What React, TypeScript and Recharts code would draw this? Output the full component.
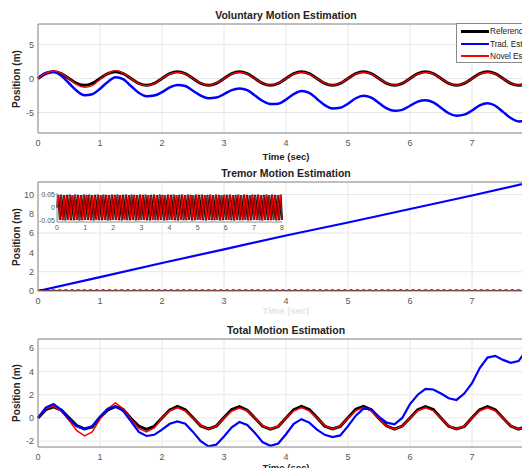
import React from "react";
import { LineChart, Line, XAxis, YAxis, CartesianGrid, ReferenceLine } from "recharts";

// sampling steps of the recorded signals (sec)
const STEP = 0.125;
const TREMOR_STEP = 0.05;
const X_TICKS = [0, 1, 2, 3, 4, 5, 6, 7];
const INSET_X_TICKS = [0, 1, 2, 3, 4, 5, 6, 7, 8];

// --- Voluntary motion (m) ---
const volRef = [
  0, 0.71, 1, 0.71, 0, -0.71, -1, -0.71,
  0, 0.71, 1, 0.71, 0, -0.71, -1, -0.71,
  0, 0.71, 1, 0.71, 0, -0.71, -1, -0.71,
  0, 0.71, 1, 0.71, 0, -0.71, -1, -0.71,
  0, 0.71, 1, 0.71, 0, -0.71, -1, -0.71,
  0, 0.71, 1, 0.71, 0, -0.71, -1, -0.71,
  0, 0.71, 1, 0.71, 0, -0.71, -1, -0.71,
  0, 0.71, 1, 0.71, 0, -0.71, -1, -0.71,
  0,
];
const volTrad = [
  0, 0.8, 1.0, 0.4, -0.7, -1.8, -2.45, -2.3,
  -1.5, -0.5, 0.2, -0.1, -1.1, -2.1, -2.6, -2.5,
  -2.0, -1.3, -0.95, -1.1, -1.8, -2.5, -2.9, -2.8,
  -2.3, -1.7, -1.45, -1.7, -2.5, -3.3, -3.75, -3.7,
  -3.1, -2.3, -1.85, -2.1, -3.0, -3.9, -4.4, -4.3,
  -3.7, -2.9, -2.55, -2.8, -3.6, -4.4, -4.75, -4.6,
  -4.0, -3.4, -3.2, -3.5, -4.3, -5.1, -5.45, -5.3,
  -4.7, -3.95, -3.65, -4.0, -4.9, -5.8, -6.3, -6.2,
  -5.6,
];
const volNovel = [
  0, 0.75, 1.1, 0.8, 0, -0.9, -1.3, -1.05,
  -0.1, 0.75, 1.15, 0.8, 0, -0.75, -1.05, -0.75,
  0, 0.68, 0.95, 0.68, 0, -0.7, -0.98, -0.7,
  0, 0.68, 0.95, 0.68, 0, -0.7, -0.98, -0.7,
  0, 0.68, 0.95, 0.68, 0, -0.7, -0.98, -0.7,
  0, 0.68, 0.95, 0.68, 0, -0.7, -0.98, -0.7,
  0, 0.68, 0.95, 0.68, 0, -0.7, -0.98, -0.7,
  0, 0.68, 0.95, 0.68, 0, -0.7, -0.98, -0.7,
  0,
];

// --- Tremor motion (m) ---
const tremorRef = [
  0,
  0.047, -0.046, 0.048, -0.047, 0.046, -0.048, 0.047, -0.046, 0.048, -0.047,
  0.046, -0.047, 0.048, -0.046, 0.047, -0.048, 0.046, -0.047, 0.048, -0.046,
  0.047, -0.046, 0.048, -0.047, 0.046, -0.048, 0.047, -0.046, 0.048, -0.047,
  0.046, -0.047, 0.048, -0.046, 0.047, -0.048, 0.046, -0.047, 0.048, -0.046,
  0.047, -0.046, 0.048, -0.047, 0.046, -0.048, 0.047, -0.046, 0.048, -0.047,
  0.046, -0.047, 0.048, -0.046, 0.047, -0.048, 0.046, -0.047, 0.048, -0.046,
  0.047, -0.046, 0.048, -0.047, 0.046, -0.048, 0.047, -0.046, 0.048, -0.047,
  0.046, -0.047, 0.048, -0.046, 0.047, -0.048, 0.046, -0.047, 0.048, -0.046,
  0.047, -0.046, 0.048, -0.047, 0.046, -0.048, 0.047, -0.046, 0.048, -0.047,
  0.046, -0.047, 0.048, -0.046, 0.047, -0.048, 0.046, -0.047, 0.048, -0.046,
  0.047, -0.046, 0.048, -0.047, 0.046, -0.048, 0.047, -0.046, 0.048, -0.047,
  0.046, -0.047, 0.048, -0.046, 0.047, -0.048, 0.046, -0.047, 0.048, -0.046,
  0.047, -0.046, 0.048, -0.047, 0.046, -0.048, 0.047, -0.046, 0.048, -0.047,
  0.046, -0.047, 0.048, -0.046, 0.047, -0.048, 0.046, -0.047, 0.048, -0.046,
  0.047, -0.046, 0.048, -0.047, 0.046, -0.048, 0.047, -0.046, 0.048, -0.047,
  0.046, -0.047, 0.048, -0.046, 0.047, -0.048, 0.046, -0.047, 0.048, -0.046,
];
const tremorNovel = [
  0,
  0.044, -0.045, 0.046, -0.044, 0.045, -0.046, 0.044, -0.045, 0.046, -0.044,
  0.045, -0.044, 0.046, -0.045, 0.044, -0.046, 0.045, -0.044, 0.046, -0.045,
  0.044, -0.045, 0.046, -0.044, 0.045, -0.046, 0.044, -0.045, 0.046, -0.044,
  0.045, -0.044, 0.046, -0.045, 0.044, -0.046, 0.045, -0.044, 0.046, -0.045,
  0.044, -0.045, 0.046, -0.044, 0.045, -0.046, 0.044, -0.045, 0.046, -0.044,
  0.045, -0.044, 0.046, -0.045, 0.044, -0.046, 0.045, -0.044, 0.046, -0.045,
  0.044, -0.045, 0.046, -0.044, 0.045, -0.046, 0.044, -0.045, 0.046, -0.044,
  0.045, -0.044, 0.046, -0.045, 0.044, -0.046, 0.045, -0.044, 0.046, -0.045,
  0.044, -0.045, 0.046, -0.044, 0.045, -0.046, 0.044, -0.045, 0.046, -0.044,
  0.045, -0.044, 0.046, -0.045, 0.044, -0.046, 0.045, -0.044, 0.046, -0.045,
  0.044, -0.045, 0.046, -0.044, 0.045, -0.046, 0.044, -0.045, 0.046, -0.044,
  0.045, -0.044, 0.046, -0.045, 0.044, -0.046, 0.045, -0.044, 0.046, -0.045,
  0.044, -0.045, 0.046, -0.044, 0.045, -0.046, 0.044, -0.045, 0.046, -0.044,
  0.045, -0.044, 0.046, -0.045, 0.044, -0.046, 0.045, -0.044, 0.046, -0.045,
  0.044, -0.045, 0.046, -0.044, 0.045, -0.046, 0.044, -0.045, 0.046, -0.044,
  0.045, -0.044, 0.046, -0.045, 0.044, -0.046, 0.045, -0.044, 0.046, -0.045,
];
const tremorTrad = [0, 1.44, 2.9, 4.32, 5.75, 7.1, 8.5, 9.9, 11.35];

// --- Total motion (m) ---
const totRef = [
  0, 0.72, 0.95, 0.68, 0.02, -0.66, -0.95, -0.78,
  0.05, 0.7, 0.97, 0.72, -0.05, -0.7, -0.98, -0.72,
  0, 0.68, 1.0, 0.7, 0.02, -0.68, -0.95, -0.7,
  0.03, 0.72, 0.98, 0.66, -0.02, -0.72, -0.96, -0.74,
  0, 0.7, 0.99, 0.72, 0.03, -0.7, -0.94, -0.72,
  0.02, 0.74, 1.0, 0.7, -0.04, -0.7, -0.97, -0.7,
  0, 0.7, 0.98, 0.73, 0, -0.72, -0.95, -0.74,
  0.02, 0.71, 0.97, 0.7, 0, -0.7, -0.96, -0.72,
  0.02,
];
const totTrad = [
  0, 0.9, 1.2, 0.7, -0.1, -0.7, -0.95, -0.7,
  0.1, 0.8, 1.0, 0.6, -0.3, -1.2, -1.55, -1.45,
  -1.0, -0.5, -0.3, -0.5, -1.2, -2.0, -2.45, -2.3,
  -1.6, -0.8, -0.35, -0.6, -1.3, -2.1, -2.4, -2.2,
  -1.4, -0.5, -0.1, -0.4, -1.0, -1.45, -1.65, -1.5,
  -0.7, 0.2, 0.8, 0.75, 0.1, -0.4, -0.55, 0.0,
  1.2, 2.0, 2.5, 2.45, 2.1, 1.7, 1.55, 2.1,
  3.0, 4.3, 5.2, 5.35, 5.0, 4.75, 4.9, 5.8,
  6.8,
];
const totNovel = [
  0, 0.78, 1.0, 0.6, -0.2, -1.1, -1.55, -1.2,
  -0.1, 0.8, 1.3, 0.8, -0.1, -0.9, -1.2, -0.85,
  0, 0.62, 0.88, 0.62, 0, -0.66, -0.95, -0.7,
  0, 0.6, 0.86, 0.64, 0, -0.68, -0.94, -0.72,
  0, 0.62, 0.9, 0.62, 0, -0.66, -0.95, -0.7,
  0, 0.64, 0.9, 0.6, -0.05, -0.7, -0.96, -0.7,
  0, 0.62, 0.88, 0.64, 0, -0.68, -0.95, -0.72,
  0, 0.62, 0.87, 0.62, 0, -0.68, -0.95, -0.7,
  0,
];

type Pt = { t: number; v: number };
const toSeries = (vals: number[], step: number): Pt[] =>
  vals.map((v, i) => ({ t: +(i * step).toFixed(3), v }));

type SeriesDef = { data: Pt[]; color: string; width: number; curve: "monotone" | "linear" };

const FONT = '"Liberation Sans", Arial, sans-serif';
const AXIS = "#8a8a8a";
const TICK = { fill: "#555", fontSize: 9 };

function Panel({
  top,
  height,
  mTop,
  mBottom,
  domain,
  yTicks,
  series,
}: {
  top: number;
  height: number;
  mTop: number;
  mBottom: number;
  domain: [number, number];
  yTicks: number[];
  series: SeriesDef[];
}) {
  return (
    <div style={{ position: "absolute", left: 0, top }}>
      <LineChart
        width={560}
        height={height}
        margin={{ top: mTop, right: 26, bottom: mBottom - 1, left: 37 }}
      >
        <CartesianGrid stroke="#e6e6e6" verticalPoints={undefined} />
        <XAxis
          dataKey="t"
          type="number"
          domain={[0, 8]}
          ticks={X_TICKS}
          height={1}
          stroke={AXIS}
          tickLine={false}
          tickSize={4}
          tickMargin={3}
          tick={TICK}
          allowDuplicatedCategory={false}
        />
        <YAxis
          type="number"
          domain={domain}
          ticks={yTicks}
          width={1}
          stroke={AXIS}
          tickLine={false}
          tickSize={2}
          tickMargin={2}
          tick={TICK}
          allowDataOverflow
        />
        <ReferenceLine y={domain[1]} stroke={AXIS} />
        {series.map((s, i) => (
          <Line
            key={i}
            data={s.data}
            dataKey="v"
            type={s.curve}
            stroke={s.color}
            strokeWidth={s.width}
            dot={false}
            isAnimationActive={false}
          />
        ))}
      </LineChart>
    </div>
  );
}

function Label({ x, y, text, size = 10, rotate = false, color = "#222", bold = true }: {
  x: number; y: number; text: string; size?: number; rotate?: boolean; color?: string; bold?: boolean;
}) {
  return (
    <div
      style={{
        position: "absolute",
        left: x,
        top: y,
        transform: `translate(-50%, -50%)${rotate ? " rotate(-90deg)" : ""}`,
        fontSize: size,
        fontWeight: bold ? 700 : 400,
        color,
        whiteSpace: "nowrap",
        lineHeight: 1,
      }}
    >
      {text}
    </div>
  );
}

function LegendBox() {
  const rows = [
    { label: "Reference", color: "#000", w: 3 },
    { label: "Trad. Est.", color: "#0000ff", w: 2 },
    { label: "Novel Est.", color: "#ff0000", w: 1.5 },
  ];
  return (
    <div
      style={{
        position: "absolute",
        left: 456,
        top: 23,
        width: 100,
        height: 38,
        border: "1px solid #8a8a8a",
        background: "#fff",
      }}
    >
      {rows.map((r, i) => (
        <div key={i} style={{ position: "absolute", left: 4, top: 1 + i * 12.5, height: 12, display: "flex", alignItems: "center" }}>
          <div style={{ width: 28, height: r.w, background: r.color }} />
          <span style={{ marginLeft: 1, fontSize: 8.3, color: "#222", letterSpacing: -0.1 }}>{r.label}</span>
        </div>
      ))}
    </div>
  );
}

function Inset() {
  return (
    <div style={{ position: "absolute", left: 30, top: 185 }}>
      <LineChart width={262} height={52} margin={{ top: 8, right: 10, bottom: 14, left: 26 }}>
        <CartesianGrid fill="#fff" stroke="none" />
        <XAxis
          dataKey="t"
          type="number"
          domain={[0, 8]}
          ticks={INSET_X_TICKS}
          height={1}
          stroke={AXIS}
          tickLine={false}
          tickSize={2}
          tickMargin={1}
          tick={{ fill: "#555", fontSize: 7 }}
          allowDuplicatedCategory={false}
        />
        <YAxis
          type="number"
          domain={[-0.054, 0.054]}
          ticks={[-0.05, 0, 0.05]}
          width={1}
          stroke={AXIS}
          tickLine={false}
          tickSize={1}
          tickMargin={1}
          tick={{ fill: "#555", fontSize: 7 }}
        />
        <Line data={toSeries(tremorRef, TREMOR_STEP)} dataKey="v" type="linear" stroke="#000" strokeWidth={2} dot={false} isAnimationActive={false} />
        <Line data={toSeries(tremorNovel, TREMOR_STEP)} dataKey="v" type="linear" stroke="#ff0000" strokeWidth={1} dot={false} isAnimationActive={false} />
      </LineChart>
    </div>
  );
}

export default function App() {
  return (
    <div
      style={{
        position: "relative",
        width: 530,
        height: 476,
        margin: -8,
        overflow: "hidden",
        background: "#fff",
        fontFamily: FONT,
      }}
    >
      <Panel
        top={0}
        height={158}
        mTop={24}
        mBottom={25}
        domain={[-8, 8]}
        yTicks={[-5, 0, 5]}
        series={[
          { data: toSeries(volRef, STEP), color: "#000", width: 3, curve: "monotone" },
          { data: toSeries(volTrad, STEP), color: "#0000ff", width: 2.5, curve: "monotone" },
          { data: toSeries(volNovel, STEP), color: "#ff0000", width: 1.3, curve: "monotone" },
        ]}
      />
      <Panel
        top={158}
        height={158}
        mTop={24}
        mBottom={25}
        domain={[0, 11.3]}
        yTicks={[0, 2, 4, 6, 8, 10]}
        series={[
          { data: toSeries(tremorTrad, 1), color: "#0000ff", width: 2.2, curve: "linear" },
          { data: toSeries(tremorRef, TREMOR_STEP), color: "#000", width: 2.5, curve: "linear" },
          { data: toSeries(tremorNovel, TREMOR_STEP), color: "#cc0000", width: 1.3, curve: "linear" },
        ]}
      />
      <Inset />
      <Panel
        top={316}
        height={160}
        mTop={23}
        mBottom={29}
        domain={[-2.5, 6.8]}
        yTicks={[-2, 0, 2, 4, 6]}
        series={[
          { data: toSeries(totRef, STEP), color: "#000", width: 3, curve: "linear" },
          { data: toSeries(totNovel, STEP), color: "#ff0000", width: 1.5, curve: "linear" },
          { data: toSeries(totTrad, STEP), color: "#0000ff", width: 2.2, curve: "linear" },
        ]}
      />
      <LegendBox />

      <Label x={286} y={15} text="Voluntary Motion Estimation" size={10.5} />
      <Label x={286} y={173} text="Tremor Motion Estimation" size={10.5} />
      <Label x={286} y={330} text="Total Motion Estimation" size={10.5} />

      <Label x={286} y={157} text="Time (sec)" size={9.5} />
      <Label x={286} y={311} text="Time (sec)" size={9.5} color="#e4e4e4" />
      <Label x={286} y={468} text="Time (sec)" size={9.5} />

      <Label x={17} y={79} text="Position (m)" size={10} rotate />
      <Label x={17} y={237} text="Position (m)" size={10} rotate />
      <Label x={17} y={393} text="Position (m)" size={10} rotate />
    </div>
  );
}
